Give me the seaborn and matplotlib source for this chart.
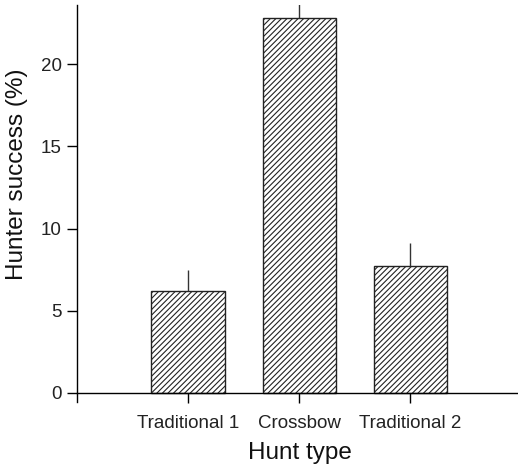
import matplotlib
matplotlib.use("Agg")
import matplotlib.pyplot as plt
import seaborn as sns
import pandas as pd
import numpy as np

categories = ["Traditional 1", "Crossbow", "Traditional 2"]
success = [6.2, 22.8, 7.7]
err_upper = [1.3, 0.9, 1.4]
yticks = [0, 5, 10, 15, 20]

sns.set_theme(style="white")
plt.rcParams['font.family'] = ['Liberation Sans', 'DejaVu Sans']
plt.rcParams['hatch.linewidth'] = 0.8

df = pd.DataFrame({"Hunt type": categories, "Hunter success (%)": success})

fig = plt.figure(figsize=(5.18, 4.76), dpi=100)
ax = fig.add_axes([77/518, 1-402/476, 1-77/518, (402-5)/476])

sns.barplot(data=df, x="Hunt type", y="Hunter success (%)", ax=ax,
            color="white", edgecolor="black", linewidth=1.0, width=0.66,
            errorbar=None, order=categories)
for p in ax.patches:
    p.set_hatch("//////")
    p.set_facecolor("white")
    p.set_edgecolor("#222222")

ax.errorbar(np.arange(len(categories)), success,
            yerr=[np.zeros(len(categories)), err_upper],
            fmt="none", ecolor="#333333", elinewidth=1.0, capsize=0, zorder=1)

ax.set_xlim(-1.0, 2.97)
ax.set_ylim(-0.55, 23.6)
ax.set_yticks(yticks)
ax.spines['top'].set_visible(False)
ax.spines['right'].set_visible(False)
ax.spines['bottom'].set_position(('data', 0))
for s in ['left', 'bottom']:
    ax.spines[s].set_color("black")
    ax.spines[s].set_linewidth(1.0)
ax.tick_params(axis='y', direction='out', length=7, width=1, color='black',
               labelsize=13.5, labelcolor='#222222', left=True, pad=4)
ax.tick_params(axis='x', direction='out', length=7, width=1, color='black',
               labelsize=13.5, labelcolor='#222222', bottom=True, pad=9)
ax.set_xlabel("Hunt type", fontsize=17.5, color='#111111', labelpad=7)
ax.set_ylabel("Hunter success (%)", fontsize=17.5, color='#111111', labelpad=9)
ax.yaxis.label.set_y(0.573)
ax.xaxis.label.set_x(0.506)

fig.savefig("out.png", dpi=100)
